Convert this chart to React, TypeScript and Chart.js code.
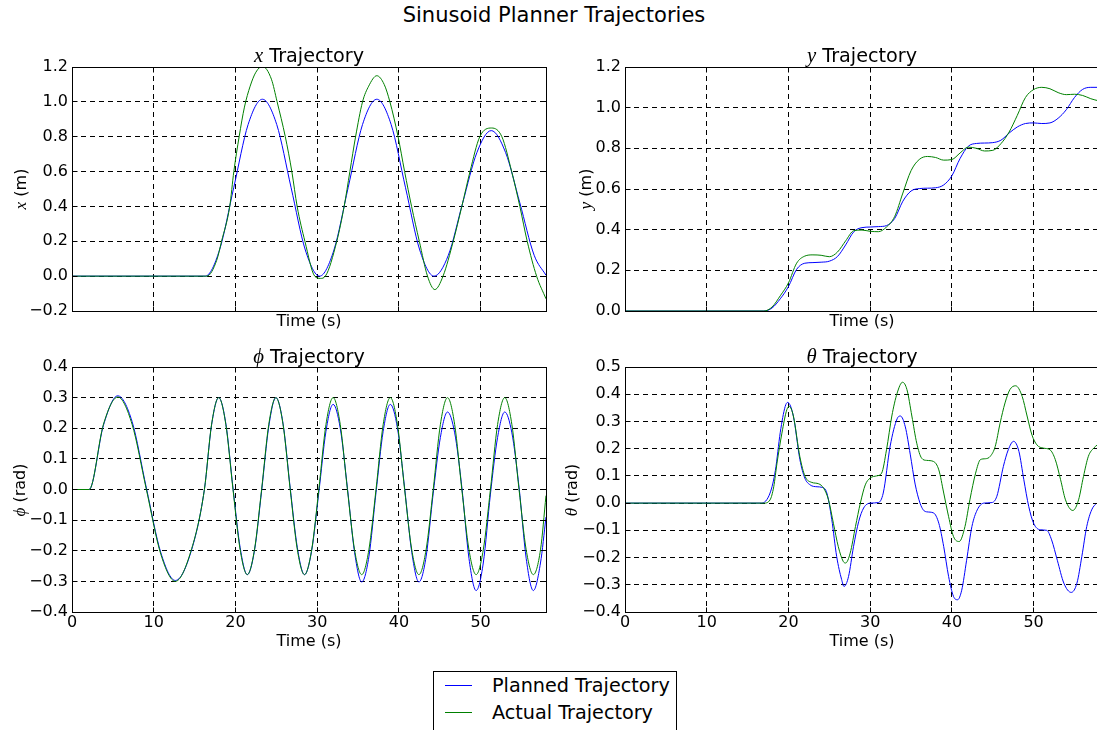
import React, { useEffect, useRef } from 'react';
import { Chart, registerables } from 'chart.js';

Chart.register(...registerables);

const FONT = "'DejaVu Sans', sans-serif";
const MATH = "'Liberation Serif', 'DejaVu Serif', serif";
const BLUE = '#0000ff';
const GREEN = '#008000';

// ---------- x trajectory ----------
const xPlannedT = [0, 16.3, 18.05, 19.8, 21.55, 23.3, 25.05, 26.8, 28.55, 30.3, 32.05, 33.8, 35.55, 37.3, 39.05, 40.8, 42.55, 44.3, 46.05, 47.8, 49.55, 51.3, 53.05, 54.8, 56.55, 58];
const xPlannedV = [0, 0, 0.15, 0.51, 0.87, 1.015, 0.87, 0.51, 0.15, 0.0, 0.15, 0.51, 0.87, 1.015, 0.87, 0.51, 0.15, 0.0, 0.12, 0.42, 0.71, 0.835, 0.71, 0.42, 0.12, 0.005];
const xActualT = [0, 16.5, 17.7, 18.3, 19.3, 19.8, 20.45, 21.1, 21.8, 22.5, 23.3, 24.4, 25.1, 26.1, 26.9, 27.55, 28.5, 29.7, 30.4, 31.0, 32.4, 33.3, 34.0, 34.7, 35.55, 36.3, 37.3, 38.2, 38.9, 39.9, 40.7, 41.55, 42.5, 43.5, 44.4, 45.4, 46.65, 47.7, 48.7, 49.9, 51.35, 52.6, 53.8, 54.8, 55.7, 56.85, 58];
const xActualV = [0, 0, 0.09, 0.2, 0.4, 0.6, 0.8, 0.97, 1.09, 1.17, 1.204, 1.13, 1.0, 0.8, 0.6, 0.4, 0.2, 0.0, -0.013, 0.0, 0.2, 0.4, 0.6, 0.8, 1.0, 1.09, 1.15, 1.1, 1.0, 0.8, 0.6, 0.4, 0.2, 0.0, -0.077, 0.0, 0.2, 0.4, 0.6, 0.8, 0.85, 0.8, 0.6, 0.4, 0.2, 0.0, -0.13];

// ---------- y trajectory ----------
const yTime = [0, 17, 18, 19, 20, 21, 22, 23, 24, 25, 26, 27, 28, 29, 30, 31, 32, 33, 34, 35, 36, 37, 38, 39, 40, 41, 42, 43, 44, 45, 46, 47, 48, 49, 50, 51, 52, 53, 54, 55, 56, 57, 58];
const yPlannedV = [0, 0, 0.015, 0.06, 0.12, 0.205, 0.235, 0.238, 0.24, 0.245, 0.268, 0.325, 0.39, 0.41, 0.413, 0.415, 0.42, 0.455, 0.54, 0.59, 0.602, 0.604, 0.606, 0.62, 0.665, 0.75, 0.81, 0.824, 0.826, 0.828, 0.84, 0.875, 0.905, 0.922, 0.925, 0.922, 0.925, 0.948, 0.99, 1.05, 1.09, 1.1, 1.1];
const yActualV = [0, 0, 0.02, 0.075, 0.138, 0.235, 0.27, 0.276, 0.274, 0.267, 0.29, 0.345, 0.395, 0.398, 0.392, 0.39, 0.413, 0.465, 0.58, 0.69, 0.745, 0.76, 0.755, 0.742, 0.745, 0.777, 0.806, 0.8, 0.787, 0.79, 0.823, 0.88, 0.962, 1.05, 1.089, 1.1, 1.093, 1.074, 1.064, 1.066, 1.06, 1.044, 1.033];

// ---------- phi trajectory ----------
const phiTime = [0, 2.1, 3.85, 5.6, 7.35, 9.1, 10.875, 12.65, 14.425, 16.2,
  17.075, 17.95, 18.825, 19.7, 20.575, 21.45, 22.325, 23.2,
  24.075, 24.95, 25.825, 26.7, 27.575, 28.45, 29.325, 30.2,
  31.075, 31.95, 32.825, 33.7, 34.575, 35.45, 36.325, 37.2,
  38.075, 38.95, 39.825, 40.7, 41.575, 42.45, 43.325, 44.2,
  45.075, 45.95, 46.825, 47.7, 48.575, 49.45, 50.325, 51.2,
  52.075, 52.95, 53.825, 54.7, 55.575, 56.45, 57.325, 58];
const phiPlannedV = [0, 0, 0.21, 0.306, 0.222, 0.005, -0.207, -0.297, -0.215, 0,
  0.21, 0.3, 0.215, 0.005, -0.19, -0.278, -0.2, -0.005,
  0.205, 0.3, 0.215, 0.005, -0.19, -0.278, -0.2, -0.01,
  0.19, 0.278, 0.2, 0.005, -0.205, -0.302, -0.22, -0.01,
  0.19, 0.278, 0.2, 0.005, -0.205, -0.302, -0.22, -0.012,
  0.17, 0.253, 0.185, 0.008, -0.225, -0.33, -0.24, -0.015,
  0.17, 0.253, 0.185, 0.008, -0.225, -0.33, -0.24, -0.09];
const phiActualV = [0, 0, 0.213, 0.302, 0.213, 0, -0.212, -0.3, -0.212, 0,
  0.212, 0.3, 0.212, 0, -0.197, -0.278, -0.197, 0,
  0.212, 0.3, 0.212, 0, -0.197, -0.278, -0.197, 0,
  0.212, 0.3, 0.212, 0, -0.197, -0.278, -0.197, 0,
  0.212, 0.3, 0.212, 0, -0.197, -0.278, -0.197, 0,
  0.212, 0.3, 0.212, 0, -0.197, -0.278, -0.197, 0,
  0.212, 0.3, 0.212, 0, -0.197, -0.278, -0.197, -0.02];

// ---------- theta trajectory ----------
const thetaPlannedT = [0, 16.7, 17.75, 18.4, 19.0, 19.6, 19.9, 20.6, 21.4, 22.0, 22.65, 23.5, 24.1, 24.7, 25.3, 25.9, 26.5, 26.8, 27.35, 27.96, 28.6, 29.2, 30.0, 31.0, 31.6, 32.45, 33.3, 33.7, 34.3, 34.9, 35.5, 36.1, 36.5, 36.9, 37.75, 38.4, 39.0, 39.6, 40.2, 40.7, 41.2, 41.8, 42.45, 43.1, 43.9, 44.9, 45.5, 46.3, 46.9, 47.55, 48.2, 48.8, 49.4, 50.0, 50.8, 51.6, 52.2, 52.9, 53.7, 54.6, 55.3, 55.9, 56.5, 57.1, 57.75, 58];
const thetaPlannedV = [0, 0, 0.037, 0.12, 0.26, 0.355, 0.37, 0.32, 0.16, 0.092, 0.067, 0.06, 0.058, 0.037, -0.06, -0.196, -0.28, -0.306, -0.27, -0.16, -0.067, -0.018, 0, 0.002, 0.037, 0.21, 0.31, 0.32, 0.28, 0.18, 0.07, 0.0, -0.025, -0.032, -0.036, -0.074, -0.16, -0.27, -0.343, -0.355, -0.32, -0.21, -0.086, -0.025, 0, 0.002, 0.025, 0.135, 0.196, 0.227, 0.19, 0.086, -0.012, -0.074, -0.098, -0.1, -0.135, -0.21, -0.294, -0.328, -0.294, -0.196, -0.086, -0.025, 0, 0.003];
const thetaActualT = [0, 17.0, 17.75, 18.2, 18.6, 19.2, 19.8, 20.1, 20.6, 21.4, 22.04, 22.86, 23.7, 24.3, 24.9, 25.5, 26.1, 26.7, 27.0, 27.55, 28.2, 28.8, 29.4, 30.0, 30.8, 31.4, 32.0, 32.65, 33.3, 33.96, 34.5, 35.1, 35.7, 36.3, 36.9, 37.75, 38.4, 39.0, 39.6, 40.2, 40.9, 41.6, 42.2, 42.9, 43.5, 44.1, 44.7, 45.3, 45.9, 46.5, 47.1, 47.8, 48.6, 49.2, 49.8, 50.4, 51.2, 52.0, 52.65, 53.3, 53.9, 54.8, 55.5, 56.1, 56.7, 57.35, 57.8, 58];
const thetaActualV = [0, 0, 0.012, 0.06, 0.147, 0.257, 0.343, 0.355, 0.32, 0.17, 0.098, 0.076, 0.071, 0.055, 0.012, -0.074, -0.16, -0.214, -0.22, -0.184, -0.086, 0.0, 0.067, 0.092, 0.1, 0.11, 0.196, 0.32, 0.404, 0.444, 0.417, 0.32, 0.22, 0.165, 0.157, 0.153, 0.122, 0.037, -0.05, -0.123, -0.141, -0.086, 0.012, 0.11, 0.16, 0.163, 0.172, 0.208, 0.294, 0.368, 0.417, 0.431, 0.392, 0.32, 0.25, 0.214, 0.202, 0.196, 0.16, 0.086, 0.012, -0.027, 0.012, 0.098, 0.172, 0.202, 0.214, 0.22];

const TIME_MIN = 0;
const TIME_MAX = 58;
const TIME_STEP = 10;

const pts = (t: number[], v: number[]) => t.map((x, i) => ({ x, y: v[i] }));
const fmt1 = (val: any) => {
  const n = Number(val);
  const s = Math.abs(n) < 1e-9 ? '0.0' : n.toFixed(1);
  return s.replace('-', '\u2212');
};

const align = (p: number) => Math.round(p - 0.5) + 0.5;

const framePlugin = {
  id: 'frame',
  afterDatasetsDraw(chart: any) {
    const { ctx, chartArea: a } = chart;
    const L = align(a.left), R = align(a.right), T = align(a.top), B = align(a.bottom);
    ctx.save();
    ctx.setLineDash([]);
    ctx.strokeStyle = '#000';
    ctx.lineWidth = 1;
    const tl = 5;
    ctx.beginPath();
    chart.scales.x.ticks.forEach((tk: any) => {
      const px = align(chart.scales.x.getPixelForValue(tk.value));
      if (px <= L + 1 || px >= R - 1) return;
      ctx.moveTo(px, B); ctx.lineTo(px, B - tl);
      ctx.moveTo(px, T); ctx.lineTo(px, T + tl);
    });
    chart.scales.y.ticks.forEach((tk: any) => {
      const py = align(chart.scales.y.getPixelForValue(tk.value));
      if (py <= T + 1 || py >= B - 1) return;
      ctx.moveTo(L, py); ctx.lineTo(L + tl, py);
      ctx.moveTo(R, py); ctx.lineTo(R - tl, py);
    });
    ctx.stroke();
    ctx.strokeRect(L, T, R - L, B - T);
    ctx.restore();
  },
};

type PanelProps = {
  left: number; top: number; width: number; height: number;
  yAxisW: number; padR: number; padT: number; xAxisH: number;
  showXTicks: boolean; titlePadB: number;
  yMin: number; yMax: number; yStep: number;
  pT: number[]; pV: number[]; aT: number[]; aV: number[];
};

function Panel(p: PanelProps) {
  const ref = useRef<HTMLCanvasElement>(null);
  useEffect(() => {
    const tickFont = { family: FONT, size: 16 };
    const gridOpts = { color: '#000', lineWidth: 1, drawTicks: false };
    const chart = new Chart(ref.current as HTMLCanvasElement, {
      type: 'line',
      data: {
        datasets: [
          { label: 'Planned Trajectory', data: pts(p.pT, p.pV), borderColor: BLUE, borderWidth: 1, pointRadius: 0, fill: false, cubicInterpolationMode: 'monotone', order: 2 } as any,
          { label: 'Actual Trajectory', data: pts(p.aT, p.aV), borderColor: GREEN, borderWidth: 1, pointRadius: 0, fill: false, cubicInterpolationMode: 'monotone', order: 1 } as any,
        ],
      },
      options: {
        animation: false,
        responsive: false,
        maintainAspectRatio: false,
        events: [],
        layout: { padding: { left: 0, right: p.padR, top: p.padT, bottom: 0 } },
        plugins: { legend: { display: false }, tooltip: { enabled: false }, title: { display: false } },
        scales: {
          x: {
            type: 'linear', min: TIME_MIN, max: TIME_MAX,
            ticks: { stepSize: TIME_STEP, includeBounds: false, display: p.showXTicks, padding: 1, color: '#000', font: tickFont, maxRotation: 0, autoSkip: false, callback: (v: any) => String(v) },
            grid: gridOpts,
            border: { display: false, dash: [5, 4] },
            title: { display: true, text: 'Time (s)', color: '#000', font: tickFont, padding: { top: 0, bottom: p.titlePadB } },
            afterFit: (s: any) => { s.height = p.xAxisH; },
          },
          y: {
            type: 'linear', min: p.yMin, max: p.yMax,
            ticks: { stepSize: p.yStep, padding: 4, color: '#000', font: tickFont, autoSkip: false, callback: fmt1 },
            grid: gridOpts,
            border: { display: false, dash: [5, 4] },
            afterFit: (s: any) => { s.width = p.yAxisW; },
          },
        },
      } as any,
      plugins: [framePlugin],
    });
    return () => chart.destroy();
  }, []);
  return (
    <div style={{ position: 'absolute', left: p.left, top: p.top, width: p.width, height: p.height }}>
      <canvas ref={ref} width={p.width} height={p.height} style={{ display: 'block', width: p.width, height: p.height }} />
    </div>
  );
}

function Label(props: { cx: number; cy: number; size: number; rotate?: boolean; children: any }) {
  const w = 400;
  return (
    <div style={{
      position: 'absolute', left: props.cx - w / 2, top: props.cy - props.size / 2, width: w, height: props.size,
      lineHeight: props.size + 'px', fontSize: props.size, fontFamily: FONT, textAlign: 'center', whiteSpace: 'nowrap', color: '#000',
      transform: props.rotate ? 'rotate(-90deg)' : undefined, transformOrigin: 'center center',
    }}>{props.children}</div>
  );
}

const M = (s: string) => <span style={{ fontFamily: MATH, fontStyle: 'italic', fontSize: '1.08em' }}>{s}</span>;

export default function App() {
  return (
    <div style={{ position: 'absolute', left: 0, top: 0, width: 1097, height: 730, overflow: 'hidden', background: '#fff' }}>
      <Panel left={0} top={40} width={560} height={300} yAxisW={72} padR={14} padT={27} xAxisH={29} showXTicks={false} titlePadB={9}
        yMin={-0.2} yMax={1.2} yStep={0.2} pT={xPlannedT} pV={xPlannedV} aT={xActualT} aV={xActualV} />
      <Panel left={560} top={40} width={540} height={300} yAxisW={65} padR={1} padT={27} xAxisH={29} showXTicks={false} titlePadB={9}
        yMin={0} yMax={1.2} yStep={0.2} pT={yTime} pV={yPlannedV} aT={yTime} aV={yActualV} />
      <Panel left={0} top={340} width={560} height={320} yAxisW={72} padR={14} padT={27} xAxisH={48} showXTicks={true} titlePadB={9}
        yMin={-0.4} yMax={0.4} yStep={0.1} pT={phiTime} pV={phiPlannedV} aT={phiTime} aV={phiActualV} />
      <Panel left={560} top={340} width={540} height={320} yAxisW={65} padR={1} padT={27} xAxisH={48} showXTicks={true} titlePadB={9}
        yMin={-0.4} yMax={0.5} yStep={0.1} pT={thetaPlannedT} pV={thetaPlannedV} aT={thetaActualT} aV={thetaActualV} />

      <Label cx={554} cy={15} size={21}>Sinusoid Planner Trajectories</Label>
      <Label cx={309} cy={56} size={19.2}>{M('x')} Trajectory</Label>
      <Label cx={862} cy={56} size={19.2}>{M('y')} Trajectory</Label>
      <Label cx={309} cy={357} size={19.2}>{M('\u03d5')} Trajectory</Label>
      <Label cx={862} cy={357} size={19.2}>{M('\u03b8')} Trajectory</Label>

      <Label cx={21} cy={189} size={16} rotate>{M('x')} (m)</Label>
      <Label cx={586} cy={189} size={16} rotate>{M('y')} (m)</Label>
      <Label cx={20} cy={490} size={16} rotate>{M('\u03d5')} (rad)</Label>
      <Label cx={572} cy={490} size={16} rotate>{M('\u03b8')} (rad)</Label>

      <div style={{ position: 'absolute', left: 433, top: 671, width: 242, height: 80, border: '1px solid #000', background: '#fff' }} />
      <div style={{ position: 'absolute', left: 445, top: 685, width: 27, height: 1, background: BLUE }} />
      <div style={{ position: 'absolute', left: 445, top: 712, width: 27, height: 1, background: GREEN }} />
      <div style={{ position: 'absolute', left: 492, top: 676, height: 19, lineHeight: '19px', fontSize: 19.2, fontFamily: FONT, whiteSpace: 'nowrap', color: '#000' }}>Planned Trajectory</div>
      <div style={{ position: 'absolute', left: 492, top: 703, height: 19, lineHeight: '19px', fontSize: 19.2, fontFamily: FONT, whiteSpace: 'nowrap', color: '#000' }}>Actual Trajectory</div>
    </div>
  );
}
